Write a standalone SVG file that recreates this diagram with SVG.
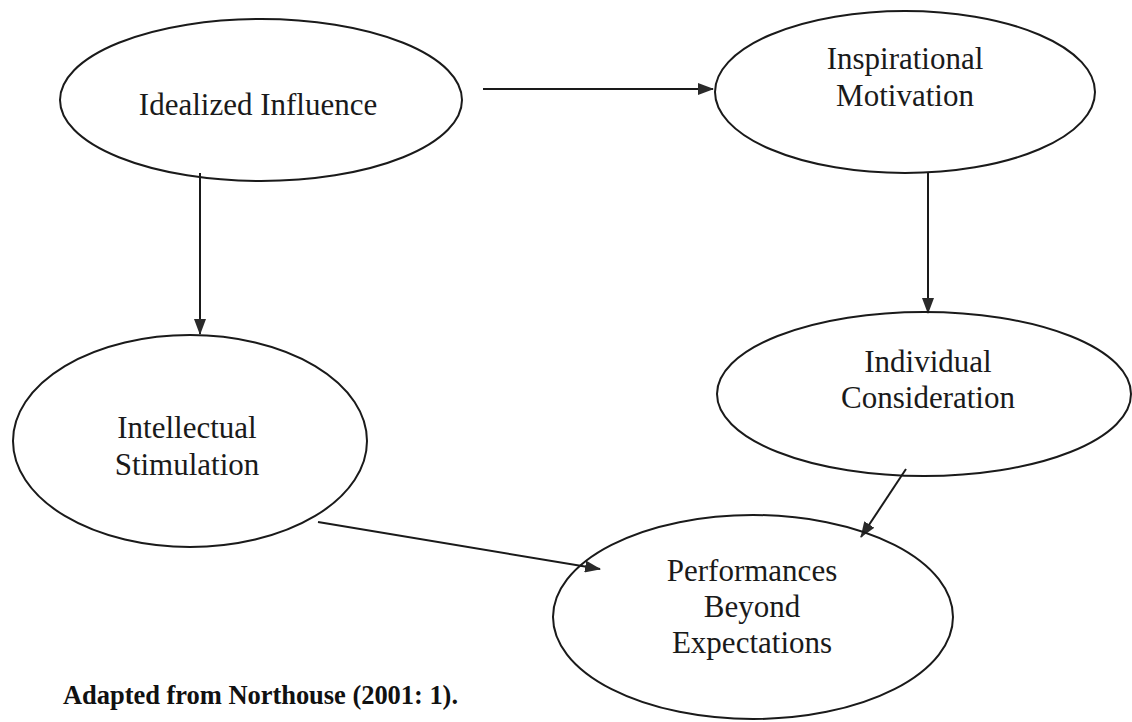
<svg xmlns="http://www.w3.org/2000/svg" width="1132" height="722" viewBox="0 0 1132 722">
<style>
.node ellipse{fill:none;stroke:#1a1a1a;stroke-width:2}
.node text{font-family:"Liberation Serif","Times New Roman",serif;font-size:31px;fill:#1a1a1a;text-anchor:middle}
.edge{stroke:#1a1a1a;stroke-width:2;fill:none;marker-end:url(#arr)}
.cap{font-family:"Liberation Serif","Times New Roman",serif;font-size:26.5px;font-weight:bold;fill:#111}
</style>
<defs>
<marker id="arr" markerUnits="userSpaceOnUse" markerWidth="16" markerHeight="12" viewBox="0 0 16 12" refX="15" refY="6" orient="auto">
<path d="M0,0 L16,6 L0,12 Z" fill="#2a2a2a"/>
</marker>
</defs>
<rect width="1132" height="722" fill="#ffffff"/>
<g id="connectors">
<line class="edge" x1="483" y1="89" x2="713" y2="89"/>
<line class="edge" x1="200" y1="173" x2="200" y2="334"/>
<line class="edge" x1="928" y1="173" x2="928" y2="313"/>
<line class="edge" x1="318" y1="522" x2="600" y2="569"/>
<line class="edge" x1="906" y1="469" x2="861" y2="537"/>
</g>
<g id="idealized" class="node">
<ellipse cx="261" cy="100" rx="201" ry="81"/>
<text x="258" y="115">Idealized Influence</text>
</g>
<g id="inspirational" class="node">
<ellipse cx="905" cy="92" rx="190" ry="81"/>
<text x="905" y="69">Inspirational</text>
<text x="905" y="106">Motivation</text>
</g>
<g id="intellectual" class="node">
<ellipse cx="190" cy="441" rx="177" ry="106"/>
<text x="187" y="438">Intellectual</text>
<text x="187" y="475">Stimulation</text>
</g>
<g id="individual" class="node">
<ellipse cx="924" cy="394" rx="207" ry="82"/>
<text x="928" y="372">Individual</text>
<text x="928" y="408">Consideration</text>
</g>
<g id="performances" class="node">
<ellipse cx="753" cy="617" rx="200" ry="102"/>
<text x="752" y="581">Performances</text>
<text x="752" y="617">Beyond</text>
<text x="752" y="653">Expectations</text>
</g>
<text class="cap" x="63" y="704" textLength="395" lengthAdjust="spacing">Adapted from Northouse (2001: 1).</text>
</svg>
